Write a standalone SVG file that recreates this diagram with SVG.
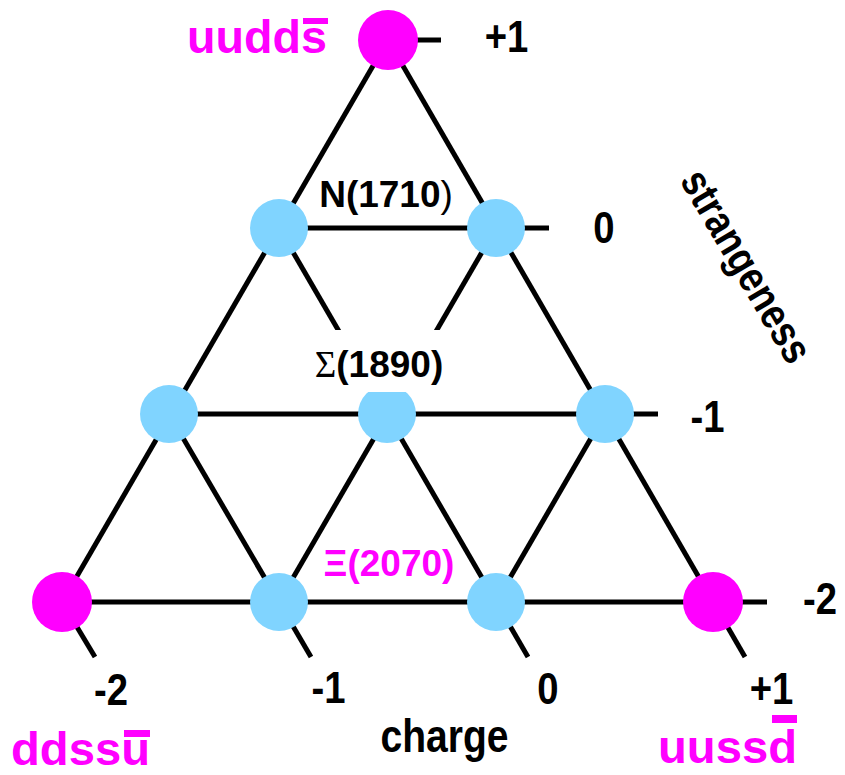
<svg xmlns="http://www.w3.org/2000/svg" width="845" height="775" viewBox="0 0 845 775">
  <style>
    .ln { stroke: #000; stroke-width: 5; fill: none; stroke-linecap: butt; }
    .mag { fill: #FF00FF; }
    .blue { fill: #80D4FF; }
    .t { font-family: "Liberation Sans", Arial, sans-serif; font-weight: bold; fill: #000; }
    .num { font-size: 44px; }
    .q { font-size: 46px; fill: #FF00FF; }
    .lbl { font-size: 37px; }
    .ser { font-family: "Liberation Serif", "Times New Roman", serif; font-weight: normal; }
  </style>
  <rect x="0" y="0" width="845" height="775" fill="#fff"/>

  <g id="connectors">
    <line class="ln" x1="388" y1="40" x2="62" y2="602"/>
    <line class="ln" x1="388" y1="40" x2="745" y2="657"/>
    <line class="ln" x1="279" y1="228" x2="528" y2="657"/>
    <line class="ln" x1="169" y1="414" x2="311" y2="657"/>
    <line class="ln" x1="62" y1="602" x2="95" y2="657"/>
    <line class="ln" x1="496" y1="228" x2="279" y2="602"/>
    <line class="ln" x1="605" y1="414" x2="496" y2="602"/>
    <line class="ln" x1="388" y1="40" x2="441" y2="40"/>
    <line class="ln" x1="279" y1="228" x2="549" y2="228"/>
    <line class="ln" x1="169" y1="414" x2="658" y2="414"/>
    <line class="ln" x1="62" y1="602" x2="767" y2="602"/>
  </g>

  <g id="node-uudds"><circle class="mag" cx="388" cy="40" r="30"/></g>
  <g id="node-n-left"><circle class="blue" cx="279" cy="228" r="29"/></g>
  <g id="node-n-right"><circle class="blue" cx="496" cy="228" r="29"/></g>
  <g id="node-s-left"><circle class="blue" cx="169" cy="414" r="29"/></g>
  <g id="node-s-mid"><circle class="blue" cx="387" cy="414" r="29"/></g>
  <g id="node-s-right"><circle class="blue" cx="605" cy="414" r="29"/></g>
  <g id="node-ddssu"><circle class="mag" cx="62" cy="602" r="30"/></g>
  <g id="node-x-left"><circle class="blue" cx="279" cy="602" r="29"/></g>
  <g id="node-x-right"><circle class="blue" cx="496" cy="602" r="29"/></g>
  <g id="node-uussd"><circle class="mag" cx="713" cy="602" r="30"/></g>

  <g id="label-N">
    <text class="t lbl" x="386" y="207" text-anchor="middle">N(1710<tspan font-weight="normal">)</tspan></text>
  </g>
  <g id="label-Sigma">
    <rect x="300" y="330" width="170" height="62" fill="#fff"/>
    <text class="t lbl" x="379" y="377" text-anchor="middle"><tspan class="ser">Σ</tspan>(1890)</text>
  </g>
  <g id="label-Xi">
    <text class="t" font-size="37" x="389" y="576" text-anchor="middle" style="fill:#FF00FF">Ξ(2070)</text>
  </g>

  <g id="quark-labels">
    <text class="t q" x="187" y="53" textLength="140" lengthAdjust="spacingAndGlyphs">uudds</text>
    <rect class="mag" x="303" y="18" width="25" height="6"/>
    <text class="t q" x="11" y="765" textLength="139" lengthAdjust="spacingAndGlyphs">ddssu</text>
    <rect class="mag" x="124" y="730" width="26" height="7"/>
    <text class="t q" x="658" y="763" textLength="139" lengthAdjust="spacingAndGlyphs">uussd</text>
    <rect class="mag" x="772" y="715" width="25" height="8"/>
  </g>

  <g id="strangeness-axis">
    <text class="t num" x="506.5" y="52" text-anchor="middle" textLength="43.6" lengthAdjust="spacingAndGlyphs">+1</text>
    <text class="t num" x="604" y="243" text-anchor="middle" textLength="21.3" lengthAdjust="spacingAndGlyphs">0</text>
    <text class="t num" x="707.5" y="432" text-anchor="middle" textLength="34" lengthAdjust="spacingAndGlyphs">-1</text>
    <text class="t num" x="820" y="614" text-anchor="middle" textLength="34" lengthAdjust="spacingAndGlyphs">-2</text>
    <g transform="translate(743.5,268) rotate(59.5)">
      <text class="t" font-size="43" x="0" y="11" text-anchor="middle" textLength="216" lengthAdjust="spacingAndGlyphs">strangeness</text>
    </g>
  </g>

  <g id="charge-axis">
    <text class="t num" x="111" y="705" text-anchor="middle" textLength="34" lengthAdjust="spacingAndGlyphs">-2</text>
    <text class="t num" x="328.5" y="703" text-anchor="middle" textLength="34" lengthAdjust="spacingAndGlyphs">-1</text>
    <text class="t num" x="548" y="704" text-anchor="middle" textLength="21.3" lengthAdjust="spacingAndGlyphs">0</text>
    <text class="t num" x="771.5" y="704" text-anchor="middle" textLength="43.6" lengthAdjust="spacingAndGlyphs">+1</text>
    <text class="t" font-size="46" x="444.5" y="752" text-anchor="middle" textLength="128" lengthAdjust="spacingAndGlyphs">charge</text>
  </g>
</svg>
